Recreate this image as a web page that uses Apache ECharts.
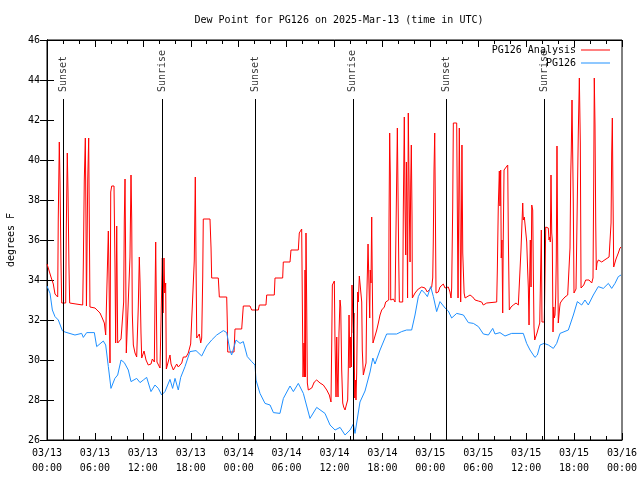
<!DOCTYPE html>
<html><head><meta charset="utf-8">
<script src="https://cdn.jsdelivr.net/npm/echarts@6/dist/echarts.min.js"></script>
<style>html,body{margin:0;padding:0;background:#fff}#c{width:640px;height:480px}</style>
</head><body><div id="c"></div>
<script>
// Time in hours since 2025-03-13 00:00 UTC, dew point in degrees F
const xTickLabels = ['03/13\n00:00','03/13\n06:00','03/13\n12:00','03/13\n18:00','03/14\n00:00','03/14\n06:00','03/14\n12:00','03/14\n18:00','03/15\n00:00','03/15\n06:00','03/15\n12:00','03/15\n18:00','03/16\n00:00'];
const sunTimes = [2.0, 14.4, 26.05, 38.3, 50.05, 62.25];
const sunLabels = ['Sunset','Sunrise','Sunset','Sunrise','Sunset','Sunrise'];

const analysis = [[0,34.8],[0.16,34.6],[0.5,34.15],[0.79,33.8],[1.0,33.3],[1.34,33.15],[1.41,37.05],[1.54,40.9],[1.63,38.9],[1.75,34.9],[1.84,32.85],[2.34,32.85],[2.42,36.65],[2.54,40.35],[2.63,38.45],[2.75,34.7],[2.84,32.85],[3.63,32.8],[4.47,32.75],[4.55,34.8],[4.67,39.0],[4.8,41.1],[4.88,37.0],[4.94,32.7],[5.1,39.0],[5.22,41.1],[5.3,36.9],[5.38,32.65],[6.01,32.6],[6.64,32.35],[6.92,32.1],[7.18,31.85],[7.35,31.25],[7.48,31.15],[7.68,36.45],[7.76,34.35],[7.89,29.85],[7.98,38.4],[8.1,38.7],[8.39,38.7],[8.51,34.85],[8.6,30.85],[8.73,36.7],[8.85,30.85],[9.02,30.75],[9.27,31.05],[9.43,30.95],[9.6,32.9],[9.68,37.0],[9.77,39.05],[9.85,35.0],[9.93,30.35],[10.18,30.25],[10.39,35.15],[10.52,39.25],[10.61,37.0],[10.68,32.35],[10.81,30.75],[11.02,30.35],[11.23,30.15],[11.43,32.65],[11.56,35.15],[11.65,33.9],[11.77,31.35],[11.86,30.1],[12.15,30.45],[12.4,30.0],[12.68,29.75],[13.02,29.8],[13.19,30.05],[13.44,29.9],[13.52,32.85],[13.61,35.9],[13.69,32.85],[13.77,29.9],[14.15,29.6],[14.36,29.6],[14.44,35.1],[14.53,32.35],[14.65,35.1],[14.74,33.35],[14.86,33.85],[14.94,29.55],[15.19,29.55],[15.4,30.25],[15.53,29.8],[15.82,29.5],[16.03,29.55],[16.24,29.8],[16.44,29.65],[16.65,29.75],[16.87,29.85],[17.07,30.15],[17.41,30.15],[17.69,30.35],[17.99,30.8],[18.24,30.9],[18.44,34.95],[18.57,39.15],[18.66,34.95],[18.75,31.1],[18.95,31.15],[19.07,31.3],[19.25,30.85],[19.37,31.1],[19.5,34.15],[19.57,37.05],[20.41,37.05],[20.54,35.6],[20.62,34.1],[21.45,34.1],[21.58,33.15],[22.5,33.15],[22.58,31.85],[22.63,30.4],[23.42,30.4],[23.54,31.55],[24.38,31.55],[24.58,32.7],[25.42,32.7],[25.63,32.5],[26.46,32.5],[26.59,32.75],[27.42,32.75],[27.51,33.25],[28.46,33.25],[28.55,34.1],[29.51,34.1],[29.59,34.9],[30.43,34.9],[30.55,35.5],[31.47,35.5],[31.59,36.35],[31.89,36.55],[31.97,33.0],[32.06,29.15],[32.18,30.85],[32.25,29.15],[32.31,34.5],[32.37,29.15],[32.43,36.35],[32.52,32.65],[32.6,28.85],[32.72,28.5],[32.93,28.5],[33.15,28.6],[33.47,28.9],[33.77,29.0],[34.19,28.85],[34.6,28.75],[35.03,28.5],[35.35,28.25],[35.56,27.9],[35.65,30.75],[35.73,33.75],[35.98,33.95],[36.06,31.0],[36.19,28.15],[36.28,31.15],[36.35,29.35],[36.44,28.15],[36.56,31.35],[36.69,33.0],[36.78,32.65],[36.9,29.5],[37.03,27.85],[37.15,27.65],[37.32,27.5],[37.48,27.75],[37.65,28.0],[37.73,29.6],[37.82,32.25],[37.94,29.6],[38.03,31.15],[38.11,29.65],[38.19,33.75],[38.28,32.35],[38.36,31.35],[38.44,32.35],[38.53,28.1],[38.61,29.0],[38.69,28.0],[38.78,29.35],[38.9,33.4],[38.98,32.9],[39.11,34.2],[39.32,34.2],[39.41,32.9],[39.48,30.5],[39.61,29.25],[39.82,29.3],[39.95,29.85],[40.03,32.85],[40.2,35.8],[40.32,35.8],[40.41,32.1],[40.48,34.5],[40.57,33.85],[40.66,37.15],[40.73,34.0],[40.82,30.85],[41.07,30.85],[41.29,31.5],[41.49,31.85],[41.7,32.25],[41.91,32.5],[42.24,32.65],[42.41,32.9],[42.54,33.0],[42.79,33.0],[42.83,37.1],[42.91,41.35],[42.99,39.25],[43.04,33.0],[43.37,33.05],[43.58,32.9],[43.83,32.9],[43.87,41.6],[43.95,41.6],[44.04,35.1],[44.12,32.9],[44.54,32.9],[44.62,37.6],[44.74,42.15],[44.83,37.6],[44.92,35.25],[45.0,39.9],[45.08,37.6],[45.15,33.1],[45.24,42.35],[45.37,37.6],[45.46,34.9],[45.54,38.85],[45.62,40.75],[45.71,37.1],[45.75,33.1],[46.08,33.35],[46.49,33.55],[46.92,33.65],[47.33,33.6],[47.62,33.4],[47.87,33.5],[48.17,33.65],[48.3,34.1],[48.37,35.9],[48.46,39.5],[48.55,41.35],[48.62,38.0],[48.71,33.35],[49.0,33.4],[49.21,33.65],[49.62,33.8],[49.84,33.6],[50.05,33.5],[50.25,33.65],[50.46,33.4],[50.59,33.1],[50.67,33.6],[50.8,37.6],[50.88,41.85],[51.3,41.85],[51.38,37.6],[51.47,33.1],[51.55,33.1],[51.63,41.6],[51.72,37.35],[51.8,32.9],[51.87,35.4],[51.96,40.75],[52.06,35.35],[52.23,33.35],[52.35,33.1],[52.56,33.15],[52.97,33.25],[53.18,33.35],[53.31,33.15],[53.6,33.0],[53.81,32.9],[54.01,32.95],[54.22,32.85],[54.43,32.9],[54.63,32.75],[55.06,32.85],[56.31,32.9],[56.39,34.5],[56.51,37.7],[56.64,39.45],[56.72,37.7],[56.81,39.5],[56.88,35.1],[56.97,36.0],[57.06,32.35],[57.13,36.0],[57.23,39.5],[57.48,39.6],[57.69,39.75],[57.77,36.1],[57.89,32.5],[58.1,32.65],[58.39,32.75],[58.73,32.85],[59.02,32.75],[59.23,32.65],[59.35,35.5],[59.44,36.45],[59.57,37.85],[59.64,37.0],[59.77,37.15],[59.86,37.05],[59.98,37.25],[60.07,35.9],[60.2,34.35],[60.27,33.65],[60.36,31.75],[60.45,34.35],[60.52,36.0],[60.61,33.65],[60.7,37.75],[60.82,37.5],[60.9,34.35],[60.98,31.65],[61.07,31.0],[61.23,31.0],[61.36,31.35],[61.52,31.4],[61.7,31.85],[61.82,34.65],[61.9,36.5],[61.98,31.9],[62.27,31.9],[62.36,34.25],[62.45,36.65],[62.57,36.6],[62.77,36.6],[62.86,36.0],[62.95,36.15],[63.02,35.9],[63.11,39.25],[63.2,36.35],[63.27,36.0],[63.36,31.4],[63.45,32.65],[63.52,32.1],[63.61,32.25],[63.7,33.15],[63.77,35.0],[63.86,40.7],[63.95,35.35],[64.02,31.85],[64.11,31.75],[64.2,32.65],[64.27,32.85],[64.52,33.0],[64.86,33.15],[65.2,33.25],[65.4,33.35],[65.49,35.6],[65.58,39.25],[65.65,40.5],[65.74,43.0],[65.83,43.0],[65.9,37.9],[65.99,33.35],[66.24,33.55],[66.45,33.6],[66.53,41.4],[66.66,44.1],[66.78,40.85],[66.87,33.6],[67.21,33.75],[67.37,33.7],[67.45,34.0],[67.7,34.1],[67.87,34.0],[68.21,33.85],[68.37,34.1],[68.46,39.0],[68.53,44.1],[68.62,41.75],[68.71,36.85],[68.78,34.5],[68.87,34.85],[69.04,35.0],[69.46,34.9],[69.66,35.0],[70.0,35.05],[70.21,35.1],[70.38,35.15],[70.5,35.1],[70.63,36.85],[70.71,40.35],[70.79,42.1],[70.87,38.35],[70.96,34.65],[71.13,34.75],[71.25,35.05],[71.54,35.35],[71.75,35.6],[71.88,35.65]];

const observed = [[0,33.7],[0.38,33.33],[0.67,32.5],[1.0,32.17],[1.42,32.0],[1.92,31.47],[2.25,31.4],[3.5,31.25],[4.34,31.33],[4.55,31.13],[4.97,31.37],[5.93,31.37],[6.22,30.67],[7.05,30.95],[7.35,30.75],[7.68,29.67],[8.01,28.58],[8.5,29.08],[8.85,29.25],[9.27,30.0],[9.68,29.87],[10.18,29.5],[10.52,28.92],[11.23,29.08],[11.65,28.87],[12.06,29.0],[12.48,29.13],[13.02,28.42],[13.52,28.75],[13.94,28.58],[14.36,28.25],[14.77,28.42],[15.4,29.03],[15.73,28.58],[16.03,29.08],[16.44,28.5],[16.74,29.13],[17.28,29.67],[17.9,30.42],[18.66,30.47],[19.37,30.2],[19.99,30.7],[20.62,31.0],[21.25,31.25],[22.08,31.47],[22.5,31.37],[22.9,30.5],[23.12,30.25],[23.67,31.0],[24.17,30.83],[24.58,30.92],[25.08,30.17],[25.63,29.92],[26.05,29.75],[26.17,29.0],[26.67,28.33],[27.3,27.83],[27.93,27.75],[28.35,27.37],[29.17,27.33],[29.6,28.08],[30.43,28.7],[30.85,28.42],[31.47,28.83],[32.1,28.33],[32.93,27.08],[33.77,27.63],[34.81,27.33],[35.44,26.75],[36.07,26.5],[36.7,26.63],[37.32,26.25],[37.95,26.5],[38.36,26.8],[38.57,26.33],[39.19,27.9],[39.82,28.45],[40.45,29.4],[40.8,30.1],[41.07,29.8],[41.7,30.5],[42.53,31.3],[43.78,31.3],[44.41,31.42],[45.03,31.5],[45.66,31.5],[46.08,32.25],[46.5,33.17],[46.92,33.5],[47.33,33.33],[47.63,33.17],[48.04,33.67],[48.38,33.17],[48.79,32.42],[49.21,32.92],[49.84,32.6],[50.25,32.45],[50.67,32.1],[51.3,32.33],[52.14,32.25],[52.76,31.87],[53.39,31.83],[54.02,31.67],[54.64,31.3],[55.27,31.25],[55.81,31.58],[56.1,31.3],[56.72,31.37],[57.35,31.2],[58.18,31.33],[59.64,31.33],[60.06,30.83],[60.48,30.5],[61.1,30.13],[61.4,30.25],[61.74,30.75],[62.24,30.83],[62.78,30.75],[63.4,30.58],[63.82,30.83],[64.24,31.33],[65.28,31.5],[65.91,32.25],[66.41,32.92],[66.95,32.75],[67.36,33.0],[67.78,32.75],[68.41,33.25],[69.03,33.67],[69.66,33.58],[70.29,33.83],[70.71,33.58],[71.12,33.83],[71.54,34.17],[71.88,34.25]];

const FONT = '"DejaVu Sans Mono", monospace';
const txt = {fontFamily: FONT, fontSize: 10, color: '#000'};
const chart = echarts.init(document.getElementById('c'), null, {renderer: 'canvas'});

const tickCfg = {inside: true, length: 7, lineStyle: {color: '#000', width: 1}};
const minorCfg = {show: true, splitNumber: 3, length: 4, lineStyle: {color: '#000', width: 1}};
const legendBase = {right: 30, align: 'right', padding: 0, icon: 'rect', itemWidth: 29, itemHeight: 1, itemGap: 0, textStyle: txt, selectedMode: false};

chart.setOption({
  animation: false,
  backgroundColor: '#fff',
  title: {
    text: 'Dew Point for PG126 on 2025-Mar-13 (time in UTC)',
    left: 334, top: 10, textAlign: 'center',
    textStyle: Object.assign({fontWeight: 'normal'}, txt)
  },
  legend: [
    Object.assign({data: ['PG126 Analysis'], top: 45}, legendBase),
    Object.assign({data: ['PG126'], top: 58}, legendBase)
  ],
  grid: {left: 47, right: 18, top: 40, bottom: 40, containLabel: false, outerBoundsMode: 'none',
         show: true, borderColor: '#000', borderWidth: 1, backgroundColor: 'transparent'},
  xAxis: [
    {type: 'value', min: 0, max: 72, interval: 6, position: 'bottom',
     axisLine: {lineStyle: {color: '#000'}}, axisTick: tickCfg, minorTick: minorCfg,
     splitLine: {show: false},
     axisLabel: Object.assign({formatter: v => xTickLabels[Math.round(v / 6)], lineHeight: 15, margin: 6}, txt)},
    {type: 'value', min: 0, max: 72, interval: 6, position: 'top',
     axisLine: {lineStyle: {color: '#000'}}, axisTick: tickCfg, minorTick: minorCfg,
     splitLine: {show: false}, axisLabel: {show: false}}
  ],
  yAxis: [
    {type: 'value', min: 26, max: 46, interval: 2, position: 'left',
     name: 'degrees F', nameLocation: 'middle', nameGap: 31, nameRotate: 90, nameTextStyle: txt,
     axisLine: {lineStyle: {color: '#000'}}, axisTick: tickCfg, splitLine: {show: false},
     axisLabel: Object.assign({margin: 7}, txt)},
    {type: 'value', min: 26, max: 46, interval: 2, position: 'right',
     axisLine: {lineStyle: {color: '#000'}}, axisTick: tickCfg, splitLine: {show: false},
     axisLabel: {show: false}}
  ],
  series: [
    {name: 'PG126 Analysis', type: 'line', data: analysis, symbol: 'none', color: '#ff0000',
     lineStyle: {color: '#ff0000', width: 1}, z: 2},
    {name: 'PG126', type: 'line', data: observed, symbol: 'none', color: '#1e90ff',
     lineStyle: {color: '#1e90ff', width: 1}, z: 3},
    {name: 'sun', type: 'scatter', silent: true, z: 4,
     data: sunTimes.map((t, i) => ({value: [t, 43.4], name: sunLabels[i]})),
     symbolSize: 1, itemStyle: {color: 'rgba(0,0,0,0)'},
     label: Object.assign({show: true, formatter: '{b}', rotate: 90, position: 'inside', align: 'left', verticalAlign: 'middle'}, txt),
     markLine: {silent: true, symbol: ['none', 'none'], animation: false,
       lineStyle: {color: '#000', width: 1, type: 'solid'}, label: {show: false},
       data: sunTimes.map(t => [{coord: [t, 26]}, {coord: [t, 43.05]}])}}
  ]
});
</script></body></html>
